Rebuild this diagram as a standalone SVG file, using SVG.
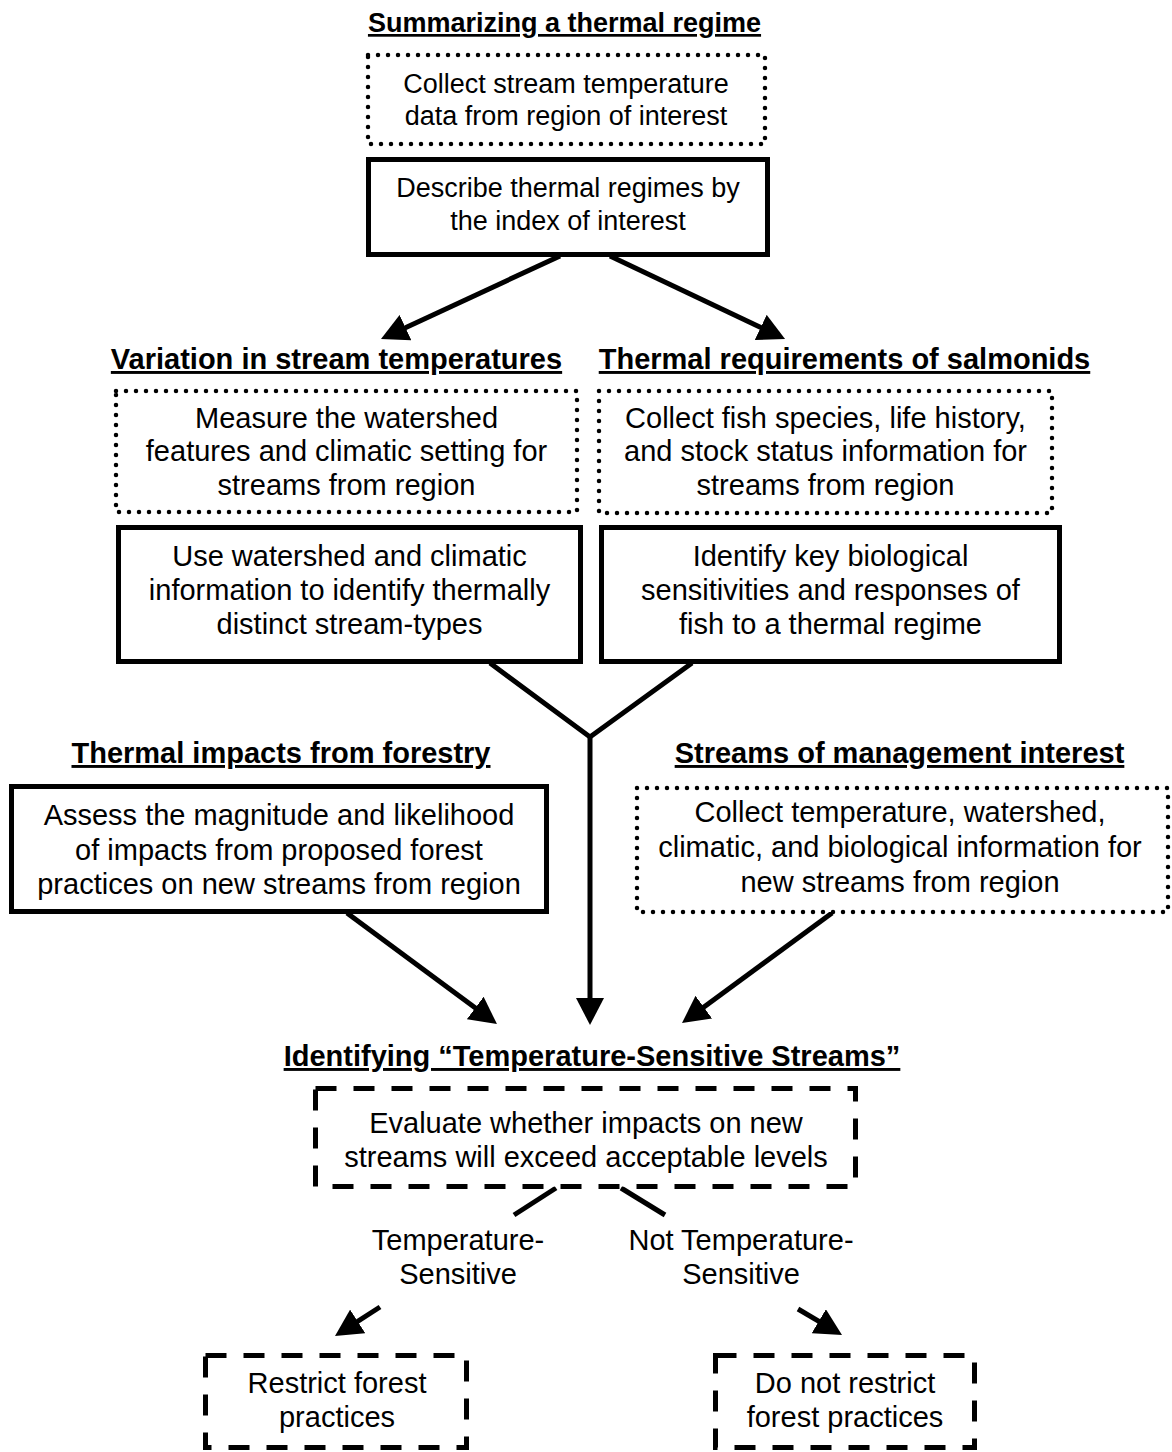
<svg xmlns="http://www.w3.org/2000/svg" width="1172" height="1452" viewBox="0 0 1172 1452">
<defs>
<style>
text{font-family:"Liberation Sans",Arial,sans-serif;fill:#000;text-anchor:middle;font-size:29px}
.h{font-weight:bold;text-decoration:underline}
.s{font-size:27px}
.solid{fill:#fff;stroke:#000;stroke-width:5}
.dot{fill:#fff;stroke:#000;stroke-width:4.5;stroke-dasharray:0 10;stroke-linecap:round}
.dash{fill:#fff;stroke:#000;stroke-width:5;stroke-dasharray:21 17}
.c{stroke:#000;stroke-width:5;fill:none}
.a{marker-end:url(#ah)}
</style>
<marker id="ah" viewBox="0 0 27 28" refX="12" refY="14" markerWidth="27" markerHeight="28" markerUnits="userSpaceOnUse" orient="auto">
<path d="M0,0 L27,14 L0,28 Z" fill="#000"/>
</marker>
</defs>
<rect width="1172" height="1452" fill="#fff"/>

<g id="connectors">
<line class="c a" x1="560" y1="256" x2="394.6" y2="332.7"/>
<line class="c a" x1="610" y1="256" x2="771.5" y2="332.6"/>
<polyline class="c" points="490,663 590,737 692,663"/>
<line class="c a" x1="590" y1="736" x2="590" y2="1010"/>
<line class="c a" x1="347" y1="913" x2="484.9" y2="1015.1"/>
<line class="c a" x1="832" y1="913" x2="694.1" y2="1014.2"/>
<line class="c" x1="556" y1="1188" x2="514" y2="1215"/>
<line class="c a" x1="380" y1="1307" x2="347.6" y2="1327.9"/>
<line class="c" x1="621" y1="1188" x2="665" y2="1215"/>
<line class="c a" x1="798" y1="1309" x2="829.1" y2="1327.4"/>
</g>

<g id="summarizing">
<text class="h s" x="564.5" y="32">Summarizing a thermal regime</text>
</g>
<g id="collect-temp">
<rect class="dot" x="368" y="55" width="397" height="89"/>
<text class="s" x="566" y="93">Collect stream temperature</text>
<text class="s" x="566" y="125">data from region of interest</text>
</g>
<g id="describe">
<rect class="solid" x="368.5" y="159.5" width="399" height="95"/>
<text class="s" x="568" y="197">Describe thermal regimes by</text>
<text class="s" x="568" y="230">the index of interest</text>
</g>

<g id="variation">
<text class="h" x="336.5" y="369">Variation in stream temperatures</text>
</g>
<g id="measure">
<rect class="dot" x="116" y="391" width="461" height="121"/>
<text x="346.5" y="428">Measure the watershed</text>
<text x="346.5" y="461">features and climatic setting for</text>
<text x="346.5" y="495">streams from region</text>
</g>
<g id="use-watershed">
<rect class="solid" x="118.5" y="527.5" width="462" height="134"/>
<text x="349.5" y="566">Use watershed and climatic</text>
<text x="349.5" y="600">information to identify thermally</text>
<text x="349.5" y="634">distinct stream-types</text>
</g>

<g id="requirements">
<text class="h" x="844.5" y="369">Thermal requirements of salmonids</text>
</g>
<g id="collect-fish">
<rect class="dot" x="599" y="391" width="453" height="122"/>
<text x="825.5" y="428">Collect fish species, life history,</text>
<text x="825.5" y="461">and stock status information for</text>
<text x="825.5" y="495">streams from region</text>
</g>
<g id="identify-key">
<rect class="solid" x="601.5" y="527.5" width="458" height="134"/>
<text x="830.5" y="566">Identify key biological</text>
<text x="830.5" y="600">sensitivities and responses of</text>
<text x="830.5" y="634">fish to a thermal regime</text>
</g>

<g id="forestry">
<text class="h" x="281" y="763">Thermal impacts from forestry</text>
</g>
<g id="assess">
<rect class="solid" x="11.5" y="786.5" width="535" height="125"/>
<text x="279" y="825">Assess the magnitude and likelihood</text>
<text x="279" y="860">of impacts from proposed forest</text>
<text x="279" y="894">practices on new streams from region</text>
</g>

<g id="management">
<text class="h" x="899.5" y="763">Streams of management interest</text>
</g>
<g id="collect-new">
<rect class="dot" x="637" y="788" width="531" height="124"/>
<text x="900" y="822">Collect temperature, watershed,</text>
<text x="900" y="857">climatic, and biological information for</text>
<text x="900" y="892">new streams from region</text>
</g>

<g id="identifying">
<text class="h" x="592" y="1066">Identifying “Temperature-Sensitive Streams”</text>
</g>
<g id="evaluate">
<rect class="dash" x="315.5" y="1088.5" width="540" height="98"/>
<text x="586" y="1133">Evaluate whether impacts on new</text>
<text x="586" y="1167">streams will exceed acceptable levels</text>
</g>

<g id="label-sensitive">
<text x="458" y="1250">Temperature-</text>
<text x="458" y="1284">Sensitive</text>
</g>
<g id="label-not-sensitive">
<text x="741" y="1250">Not Temperature-</text>
<text x="741" y="1284">Sensitive</text>
</g>

<g id="restrict">
<rect class="dash" x="205.5" y="1355.5" width="261" height="92"/>
<text x="337" y="1393">Restrict forest</text>
<text x="337" y="1427">practices</text>
</g>
<g id="not-restrict">
<rect class="dash" x="715.5" y="1355.5" width="259" height="92"/>
<text x="845" y="1393">Do not restrict</text>
<text x="845" y="1427">forest practices</text>
</g>
</svg>
